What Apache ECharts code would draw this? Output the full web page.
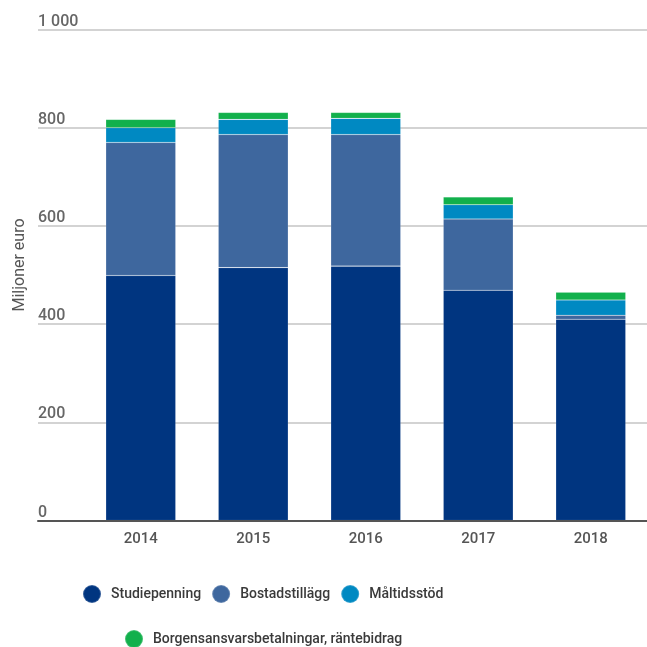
<!DOCTYPE html>
<html><head><meta charset="utf-8">
<script src="https://cdn.jsdelivr.net/npm/echarts@6/dist/echarts.min.js"></script>
<style>html,body{margin:0;padding:0;background:#fff}#c{width:647px;height:647px}</style>
</head><body><div id="c"></div>
<script>
const years = ['2014','2015','2016','2017','2018'];
const studiepenning = [499, 515, 518, 469, 410];
const bostadstillagg = [271, 271, 268, 145, 8];
const maltidsstod = [30, 31, 33, 29, 31];
const borgens = [17, 14, 12, 16, 16];
const seriesNames = ['Studiepenning','Bostadstillägg','Måltidsstöd','Borgensansvarsbetalningar, räntebidrag'];
const colors = ['#003580','#3e679e','#0089c2','#12b04c'];
const yTicks = [0, 200, 400, 600, 800, 1000];

const chart = echarts.init(document.getElementById('c'));
const font = 'Roboto';
const values = [studiepenning, bostadstillagg, maltidsstod, borgens];
const legendText = {color: '#3a3a3a', fontFamily: font, fontSize: 14, fontWeight: 500, padding: [0,0,0,5]};
chart.setOption({
  animation: false,
  color: colors,
  grid: [
    {left: 38, right: 0, top: 29.5, height: 491},
    {left: 84.5, width: 565.5, top: 29.5, height: 491}
  ],
  xAxis: [
    {gridIndex: 0, type: 'value', min: 0, max: 1, show: true, z: 5,
     axisLine: {show: true, onZero: false, lineStyle: {color: '#555', width: 2}},
     axisTick: {show: false}, axisLabel: {show: false}, splitLine: {show: false}},
    {gridIndex: 1, type: 'category', data: years,
     axisLine: {show: false}, axisTick: {show: false},
     axisLabel: {margin: 11, color: '#555', fontFamily: font, fontSize: 15, fontWeight: 500}}
  ],
  yAxis: [
    {gridIndex: 0, type: 'value', min: 0, max: 1000, interval: 200,
     axisLine: {show: false}, axisTick: {show: false},
     axisLabel: {inside: true, margin: 0, align: 'left', verticalAlign: 'bottom',
       color: '#666', fontFamily: font, fontSize: 16, fontWeight: 500,
       showMinLabel: true, showMaxLabel: true,
       formatter: v => yTicks.includes(v) ? String(v).replace(/\B(?=(\d{3})+(?!\d))/g, ' ') : ''},
     splitLine: {show: true, lineStyle: {color: '#c4c4c4', width: 1.5}}},
    {gridIndex: 1, type: 'value', min: 0, max: 1000, interval: 200, show: false, splitLine: {show: false}}
  ],
  legend: [
    {data: seriesNames.slice(0,3), left: 77, top: 579, icon: 'circle', itemWidth: 18, itemHeight: 18, itemGap: 10,
     textStyle: legendText},
    {data: seriesNames.slice(3), left: 119, top: 624, icon: 'circle', itemWidth: 18, itemHeight: 18, itemGap: 10,
     textStyle: legendText}
  ],
  graphic: [{type: 'text', x: 20, y: 265, rotation: Math.PI/2,
    style: {text: 'Miljoner euro', fill: '#555', font: '16px Roboto', align: 'center', verticalAlign: 'middle'}}],
  series: seriesNames.map((n, i) => ({
    name: n, type: 'bar', stack: 'total', xAxisIndex: 1, yAxisIndex: 1,
    barWidth: 70, data: values[i],
    itemStyle: {color: colors[i], borderColor: 'rgba(255,255,255,0.2)', borderWidth: 0.6}
  }))
});
</script></body></html>
